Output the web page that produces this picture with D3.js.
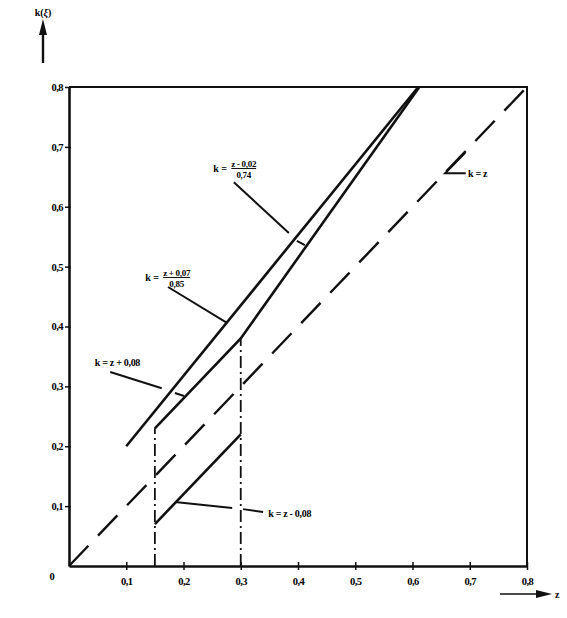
<!DOCTYPE html>
<html><head><meta charset="utf-8">
<script src="https://cdn.jsdelivr.net/npm/d3@7"></script>
<style>
html,body{margin:0;padding:0;background:#fff;}
text{font-family:"Liberation Serif","DejaVu Serif",serif;font-weight:bold;fill:#000;}
</style></head>
<body>
<svg id="c" width="567" height="618"></svg>
<script>
// ---- data ----
const xTicks = [0.1,0.2,0.3,0.4,0.5,0.6,0.7,0.8];
const yTicks = [0.1,0.2,0.3,0.4,0.5,0.6,0.7,0.8];
const lineUpper = [[0.10,0.20],[0.61,0.80]];             // k=(z+0,07)/0,85
const lineMiddle = [[0.15,0.23],[0.30,0.38],[0.612,0.80]]; // k=z+0,08 then (z-0,02)/0,74
const lineLower = [[0.15,0.07],[0.30,0.22]];             // k=z-0,08
const lineDiag = [[0,0],[0.8,0.8]];                      // k=z
const verticals = [[0.15,0.23],[0.30,0.38]];             // z, top k
const fmt = v => d3.format(".1f")(v).replace(".", ",");

const svg = d3.select("#c");
const x = d3.scaleLinear().domain([0,0.8]).range([69,527]);
const y = d3.scaleLinear().domain([0,0.8]).range([566,87]);
const line = d3.line().x(d=>x(d[0])).y(d=>y(d[1]));

// frame
svg.append("path").attr("d", `M${x(0)},${y(0.8)}H${x(0.8)}V${y(0)}`)
  .attr("fill","none").attr("stroke","#111").attr("stroke-width",2);

// axes
const ax = svg.append("g").attr("transform",`translate(0,${y(0)})`)
  .call(d3.axisBottom(x).tickValues(xTicks).tickFormat(fmt).tickSize(0).tickPadding(12));
ax.selectAll(".tick line").attr("y1",-4).attr("y2",4).attr("stroke","#111").attr("stroke-width",1.5);
const ay = svg.append("g").attr("transform",`translate(${x(0)},0)`)
  .call(d3.axisLeft(y).tickValues(yTicks).tickFormat(fmt).tickSize(0).tickPadding(6));
ay.selectAll(".tick line").attr("x1",-4).attr("x2",2).attr("stroke","#111").attr("stroke-width",1.5);
[ax,ay].forEach(a=>{
  a.select(".domain").attr("stroke","#111").attr("stroke-width",2.6);
  a.selectAll("text").attr("font-size",10.5).style("font-family","Liberation Serif").style("font-weight","bold").attr("fill","#000").attr("letter-spacing",-0.5);
});
svg.append("text").attr("x",x(0)-17).attr("y",y(0)+14).attr("text-anchor","middle").attr("font-size",10.5).text("0");

// axis arrows and labels
svg.append("line").attr("x1",43).attr("y1",63).attr("x2",43).attr("y2",30).attr("stroke","#111").attr("stroke-width",2.4);
svg.append("path").attr("d","M43,19 L47,35 L39,35 Z").attr("fill","#111");
const kl = svg.append("text").attr("x",43).attr("y",16).attr("text-anchor","middle").attr("font-size",10);
kl.append("tspan").text("k(");
kl.append("tspan").attr("font-style","italic").text("ξ");
kl.append("tspan").text(")");
svg.append("line").attr("x1",500).attr("y1",594).attr("x2",540).attr("y2",594).attr("stroke","#111").attr("stroke-width",1.6);
svg.append("path").attr("d","M552,594 L536,590 L536,598 Z").attr("fill","#111");
svg.append("text").attr("x",555).attr("y",598).attr("font-size",10).text("z");

// series
svg.append("path").attr("d",line(lineDiag)).attr("fill","none").attr("stroke","#111")
  .attr("stroke-width",2.4).attr("stroke-dasharray","28,14");
verticals.forEach(v=>{
  svg.append("path").attr("d",line([[v[0],0],[v[0],v[1]]])).attr("fill","none")
    .attr("stroke","#111").attr("stroke-width",1.8).attr("stroke-dasharray","12,4,2,4");
});
[lineUpper,lineMiddle,lineLower].forEach(l=>{
  svg.append("path").attr("d",line(l)).attr("fill","none").attr("stroke","#111")
    .attr("stroke-width",2.6).attr("stroke-linejoin","miter");
});

// annotations: leaders in data coords
const leaders = [
  [[0.288,0.641],[0.384,0.556]],
  [[0.398,0.543],[0.412,0.536]],
  [[0.173,0.466],[0.276,0.406]],
  [[0.072,0.324],[0.162,0.297]],
  [[0.185,0.289],[0.201,0.284]],
  [[0.185,0.107],[0.285,0.097]],
  [[0.304,0.095],[0.339,0.090]],
  [[0.693,0.656],[0.657,0.656],[0.692,0.690]]
];
leaders.forEach(l=>svg.append("path").attr("d",line(l)).attr("fill","none")
  .attr("stroke","#111").attr("stroke-width",2));

function plain(z,k,txt){
  svg.append("text").attr("x",x(z)).attr("y",y(k)).attr("font-size",10).attr("letter-spacing",-0.3).text(txt);
}
function frac(z,k,num,den){
  const g = svg.append("g").attr("transform",`translate(${x(z)},${y(k)})`);
  g.append("text").attr("x",0).attr("y",0).attr("font-size",10).text("k =");
  const nt = g.append("text").attr("x",18).attr("y",-5).attr("font-size",9).attr("letter-spacing",-0.3).text(num);
  const w = nt.node().getComputedTextLength();
  g.append("line").attr("x1",18).attr("x2",18+w).attr("y1",-3.5).attr("y2",-3.5).attr("stroke","#111").attr("stroke-width",1);
  g.append("text").attr("x",18+w/2).attr("y",6).attr("text-anchor","middle").attr("font-size",9).attr("letter-spacing",-0.3).text(den);
}
frac(0.252,0.658,"z - 0,02","0,74");
frac(0.133,0.476,"z + 0,07","0,85");
plain(0.045,0.334,"k = z + 0,08");
plain(0.348,0.082,"k = z - 0,08");
plain(0.697,0.650,"k = z");
</script>
</body></html>
